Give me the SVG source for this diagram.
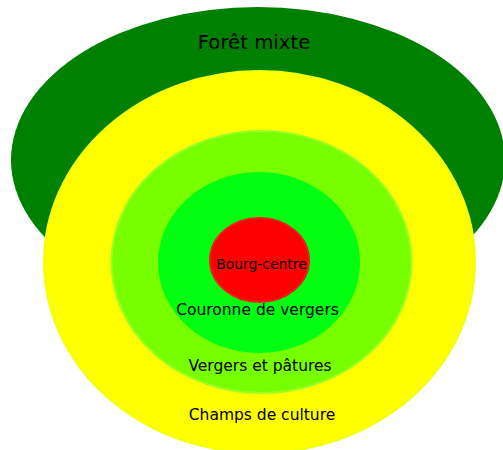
<svg xmlns="http://www.w3.org/2000/svg" width="503" height="450" viewBox="0 0 503 450">
<style>
text{font-family:"DejaVu Sans","Liberation Sans",sans-serif;fill:#000;text-anchor:middle}
.l{font-size:15.5px}
</style>
<rect width="503" height="450" fill="#fff"/>
<g id="foret">
<ellipse cx="258" cy="160" rx="247" ry="153" fill="#008000"/>
<text x="254" y="49" style="font-size:19.7px">Forêt mixte</text>
</g>
<g id="champs">
<ellipse cx="259.5" cy="262" rx="215.5" ry="191" fill="#ffff00" stroke="#f2ff10" stroke-width="2"/>
</g>
<g id="vergers-patures">
<ellipse cx="261.5" cy="262" rx="150" ry="131" fill="#77ff00" stroke="#99ff22" stroke-width="2"/>
</g>
<g id="couronne">
<ellipse cx="259" cy="262.5" rx="101" ry="90.5" fill="#00ff11"/>
</g>
<g id="bourg">
<ellipse cx="259.5" cy="260" rx="49.5" ry="42" fill="#ff0000" stroke="#f41b1b" stroke-width="2"/>
<text x="261.5" y="269" style="font-size:13.9px">Bourg-centre</text>
</g>
<text class="l" x="257.5" y="315">Couronne de vergers</text>
<text class="l" x="260" y="371">Vergers et pâtures</text>
<text class="l" x="262" y="420">Champs de culture</text>
</svg>
